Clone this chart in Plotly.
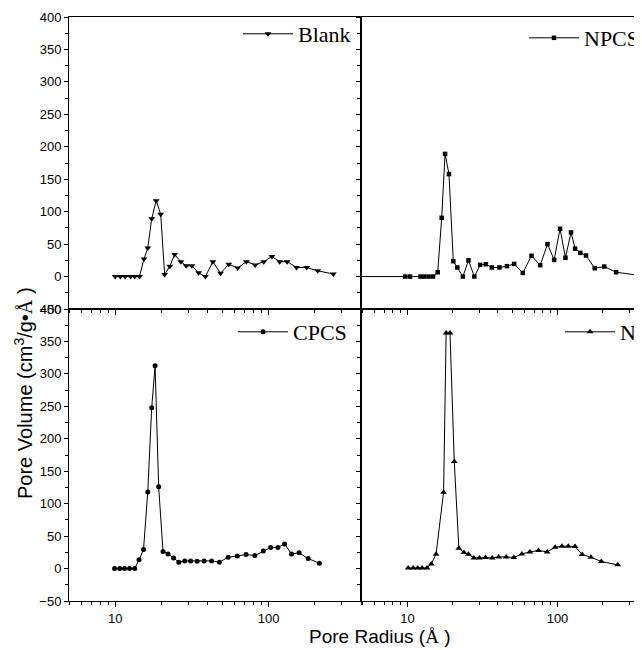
import math
import plotly.graph_objects as go

# ---------------- data ----------------
blank_x = [10, 10.8, 11.6, 12.6, 13.4, 14.4, 15.4, 16.3, 17.3, 18.5, 19.8, 21, 22.7, 24.4, 26.8, 29,
           31.6, 35, 38.7, 43.3, 48.6, 55, 62.8, 71.6, 81.7, 93, 105, 118, 132, 152, 177, 209, 264]
blank_y = [0, 0, 0, 0, 0, 0, 27, 44, 89, 117, 96, 3, 16, 34, 23, 16.5,
           16.5, 5.7, 0, 23, 5, 19, 13, 23, 18, 23, 31, 23, 23, 14, 14, 8.8, 4]

npcs_x = [3.9, 9.66, 10.4, 12.2, 12.9, 13.8, 14.8, 15.9, 16.9, 17.8, 18.9, 20.2, 21.5, 23.4, 25.5, 27.9,
          30.5, 33.3, 36.5, 41, 46, 51.4, 58.7, 67.1, 76.7, 85.8, 95, 104, 113, 123, 131, 142, 155,
          177, 205, 246, 400]
npcs_y = [0, 0, 0, 0, 0, 0, 0, 6.6, 90.5, 189, 158, 23.7, 13.9, 0, 25, 0,
          18, 19, 14, 14, 16, 19.5, 5.6, 32, 17.5, 50, 25.7, 73.6, 29, 68, 43, 36.5, 32.4,
          12.9, 15.4, 6.7, 0]

cpcs_x = [9.9, 10.7, 11.5, 12.4, 13.4, 14.3, 15.3, 16.3, 17.3, 18.2, 19.2, 20.5, 22.1, 24, 26, 28.4,
          31, 34.2, 38, 42.5, 47.8, 54.5, 62.5, 71.3, 81.3, 92.3, 103, 115, 127, 141, 158, 181, 214]
cpcs_y = [0, 0, 0, 0, 0, 13.4, 29.3, 118, 248, 312.5, 126, 26.2, 22.6, 16.4, 9.8, 11.8,
          11.8, 11.3, 11.8, 11.8, 9.8, 17.5, 19.5, 21.6, 20, 27.2, 32.4, 32.4, 38, 22.6, 24.2, 15.4, 8.2]

n_x = [10.1, 10.9, 11.7, 12.5, 13.5, 14.4, 15.5, 17.4, 18.1, 19.2, 20.5, 22, 23.8, 25.5, 27.7, 30.2,
       33.1, 36.7, 40.6, 45.5, 51.2, 57.9, 65.4, 74.7, 85.3, 96.4, 107, 118, 131, 146, 167, 196, 252]
n_y = [1, 1, 1, 1, 1, 7.2, 22, 117.7, 363, 363, 165, 31.4, 24.7, 22, 16.4, 16.4,
       17, 16.4, 18, 18, 17, 22.6, 25.7, 27.8, 25.7, 32.9, 34.4, 34.4, 33.9, 21.6, 17.5, 10.8, 5.7]

series_names = ["Blank", "NPCS", "CPCS", "N"]

x_major = [10, 100]
x_major_text = ["10", "100"]
x_minor = [5, 6, 7, 8, 9, 20, 30, 40, 50, 60, 70, 80, 90, 200, 300, 400]
y_range = [-50, 400]

# ---------------- layout geometry ----------------
OFF = 8                      # page body margin
W, H = 642 - OFF, 650 - OFF
ML, MR, MT, MB = 69 - OFF, 0, 17 - OFF, 49
pw = W - ML - MR
ph = H - MT - MB
split = 292 / pw

def sx(px):   # screen px -> paper x
    return (px - OFF - ML) / pw

def sy(py):   # screen px -> paper y
    return (H - MB - (py - OFF)) / ph

fig = go.Figure()

line = dict(color="black", width=1)
panels = [
    (series_names[0], blank_x, blank_y, "triangle-down", 6, ("x3", "y3"), "legend"),
    (series_names[1], npcs_x, npcs_y, "square", 4.5, ("x4", "y4"), "legend2"),
    (series_names[2], cpcs_x, cpcs_y, "circle", 5, ("x", "y"), "legend3"),
    (series_names[3], n_x, n_y, "triangle-up", 6, ("x2", "y2"), "legend4"),
]
for name, xs, ys, sym, sz, (xa, ya), lg in panels:
    fig.add_trace(go.Scatter(
        x=xs, y=ys, name=name, mode="lines+markers",
        line=line, marker=dict(symbol=sym, size=sz, color="black"),
        xaxis=xa, yaxis=ya, legend=lg, showlegend=True,
    ))

tickfont = dict(family="Liberation Sans, Arial", size=13, color="black")

def xaxis(domain, anchor, rng, labels):
    return dict(
        type="log", domain=domain, anchor=anchor, range=rng,
        showline=True, linecolor="black", linewidth=1, mirror=True,
        showgrid=False, zeroline=False,
        tickmode="array", tickvals=x_major, ticktext=x_major_text,
        showticklabels=labels,
        ticks="outside", ticklen=5, tickwidth=1, tickcolor="black",
        minor=dict(tickmode="array", tickvals=x_minor, ticks="outside", ticklen=3,
                   tickwidth=1, tickcolor="black", showgrid=False),
        tickfont=tickfont,
    )

def yaxis(domain, anchor, labels, mirror):
    return dict(
        domain=domain, anchor=anchor, range=y_range,
        showline=True, linecolor="black", linewidth=1, mirror=mirror,
        showgrid=False, zeroline=False,
        tickmode="linear", tick0=0, dtick=50, showticklabels=labels,
        ticks="outside", ticklen=4, tickwidth=1, tickcolor="black",
        minor=dict(dtick=25, ticks="outside", ticklen=3, tickwidth=1, tickcolor="black",
                   showgrid=False),
        tickfont=tickfont,
    )

left_rng = [math.log10(5), math.log10(400)]
right_rng = [0.69, 0.69 + (pw - 292) / 150]

legfont = dict(family="Liberation Serif, Times New Roman", size=22, color="black")

def legend(xl, yc):
    return dict(x=sx(xl), y=sy(yc), xanchor="left", yanchor="middle",
                bgcolor="rgba(0,0,0,0)", borderwidth=0, font=legfont,
                itemwidth=50, tracegroupgap=0)

fig.update_layout(
    width=W, height=H,
    margin=dict(l=ML, r=MR, t=MT, b=MB, pad=0, autoexpand=False),
    paper_bgcolor="white", plot_bgcolor="white",
    xaxis=xaxis([0, split], "y", left_rng, True),
    xaxis2=xaxis([split, 1], "y2", right_rng, True),
    xaxis3=xaxis([0, split], "y3", left_rng, False),
    xaxis4=xaxis([split, 1], "y4", right_rng, False),
    yaxis=yaxis([0, 0.5], "x", True, True),
    yaxis2=yaxis([0, 0.5], "x2", False, False),
    yaxis3=yaxis([0.5, 1], "x3", True, True),
    yaxis4=yaxis([0.5, 1], "x4", False, False),
    legend=legend(238, 34),
    legend2=legend(524, 38),
    legend3=legend(233, 332),
    legend4=legend(560, 332),
    showlegend=True,
)

# axis titles
fig.add_annotation(
    text="Pore Radius (<span style='font-family:Liberation Serif'>Å</span> )",
    xref="paper", yref="paper", x=sx(380), y=sy(636),
    showarrow=False, xanchor="center", yanchor="middle",
    font=dict(family="Liberation Sans, Arial", size=19, color="black"),
)
fig.add_annotation(
    text="Pore Volume (cm<sup>3</sup>/g•<span style='font-family:Liberation Serif'>Å</span> )",
    xref="paper", yref="paper", x=sx(23), y=sy(393),
    showarrow=False, xanchor="center", yanchor="middle", textangle=-90,
    font=dict(family="Liberation Sans, Arial", size=20, color="black"),
)

fig.write_html("out.html")
